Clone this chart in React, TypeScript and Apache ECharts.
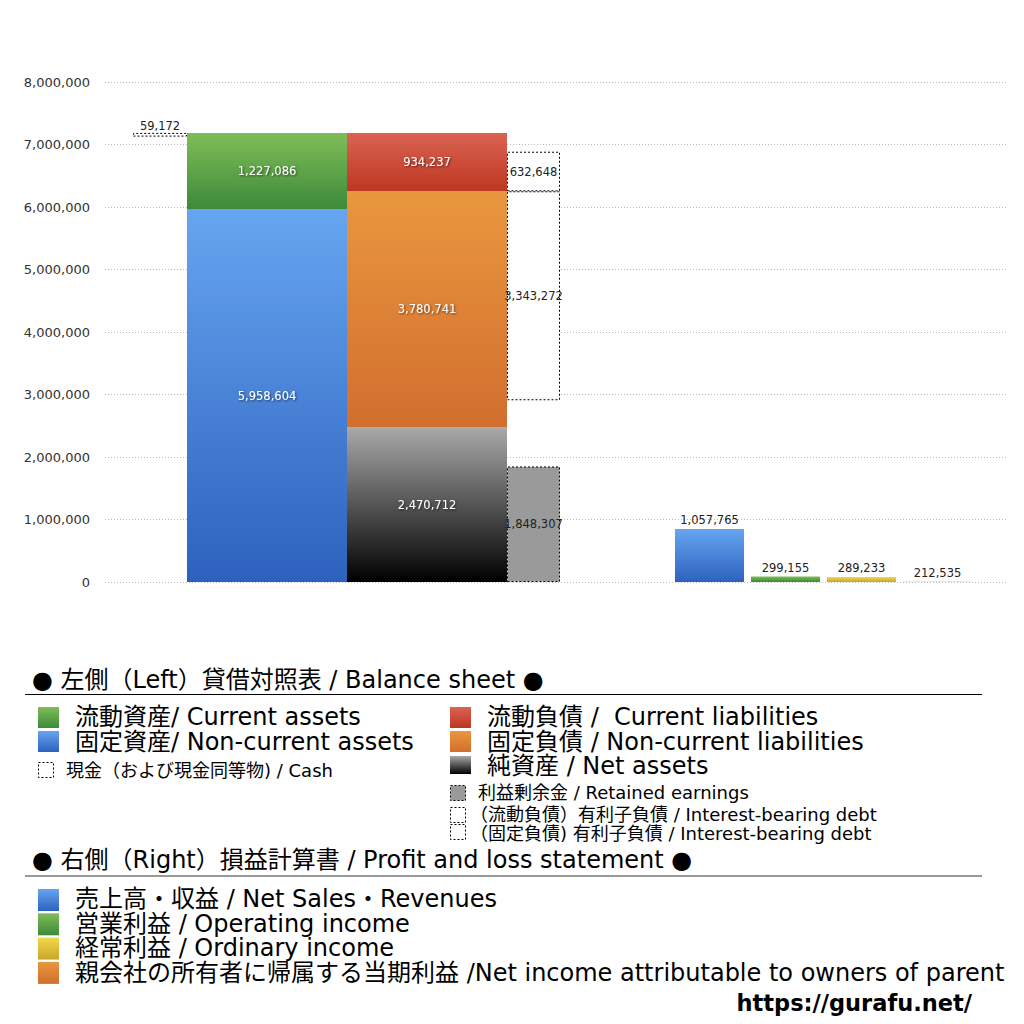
import React, { useEffect, useRef } from 'react';
import * as echarts from 'echarts';

// ---- data ----
const bsCategories = ['貸借対照表'];
const cashValues = [59172];
const assetValues = [5958604, 1227086]; // non-current, current
const liabilityValues = [3780741, 934237]; // non-current, current
const netAssetValues = [2470712];
const retainedValues = [1848307];
const debtValues = [3343272, 632648]; // non-current, current interest-bearing debt
const plCategories = ['売上高・収益', '営業利益', '経常利益', '当期利益'];
const plValues = [1057765, 299155, 289233, 212535];
const yAxisMin = 0;
const yAxisMax = 8000000;
const yAxisInterval = 1000000;
const plAxisMin = 210000;

const NUM_FONT = '"DejaVu Sans", "Noto Sans CJK JP", sans-serif';
const LEG_FONT = '"DejaVu Sans", "Noto Sans CJK JP", sans-serif';
const BIG = 24;
const SMALL = 18;

const grad = (top: string, bottom: string) =>
  new echarts.graphic.LinearGradient(0, 0, 0, 1, [
    { offset: 0, color: top },
    { offset: 1, color: bottom },
  ]);

const C = {
  green: () => grad('#80bd58', '#3c8a39'),
  blue: () => grad('#66a5f0', '#2d61be'),
  red: () => grad('#da6353', '#bd3720'),
  orange: () => grad('#e9973e', '#d26e2e'),
  black: () => grad('#a9a9a9', '#000000'),
  yellow: () => grad('#f2d84a', '#c9a52c'),
};

const fmt = (p: any) => Number(p.value).toLocaleString('en-US');

const insideLabel = {
  show: true,
  position: 'inside',
  color: '#ffffff',
  fontSize: 11.5,
  fontFamily: NUM_FONT,
  textShadowColor: 'rgba(0,0,0,0.6)',
  textShadowBlur: 2,
  textShadowOffsetX: 1,
  textShadowOffsetY: 1,
  formatter: fmt,
};
const darkInsideLabel = {
  show: true,
  position: 'inside',
  color: '#222',
  fontSize: 11.5,
  fontFamily: NUM_FONT,
  formatter: fmt,
};
const topLabel = {
  show: true,
  position: 'top',
  distance: 3,
  color: '#222',
  fontSize: 11.5,
  fontFamily: NUM_FONT,
  formatter: fmt,
};
const dashedStyle = (fill: string) => ({
  color: fill,
  borderColor: '#000',
  borderWidth: 1,
  borderType: [2, 2],
});
const spacerStyle = { color: 'rgba(0,0,0,0)' };

function buildOption() {
  const totalAssets = assetValues[0] + assetValues[1];
  const cashBase = totalAssets - cashValues[0];
  const debtBase = netAssetValues[0] + liabilityValues[0] - debtValues[0] - retainedValues[0];

  const bs = (extra: any) => ({
    type: 'bar',
    xAxisIndex: 1,
    yAxisIndex: 1,
    barGap: '0%',
    silent: true,
    emphasis: { disabled: true },
    ...extra,
  });

  const series: any[] = [
    bs({ name: 'cashBase', stack: 'cash', barWidth: 54, data: [cashBase], itemStyle: spacerStyle }),
    bs({ name: '現金', stack: 'cash', barWidth: 54, data: cashValues, itemStyle: dashedStyle('#ffffff'), label: { ...topLabel, distance: 1 } }),
    bs({ name: '固定資産', stack: 'assets', barWidth: 160, data: [assetValues[0]], itemStyle: { color: C.blue() }, label: insideLabel }),
    bs({ name: '流動資産', stack: 'assets', barWidth: 160, data: [assetValues[1]], itemStyle: { color: C.green() }, label: insideLabel }),
    bs({ name: '純資産', stack: 'liab', barWidth: 160, data: netAssetValues, itemStyle: { color: C.black() }, label: insideLabel }),
    bs({ name: '固定負債', stack: 'liab', barWidth: 160, data: [liabilityValues[0]], itemStyle: { color: C.orange() }, label: insideLabel }),
    bs({ name: '流動負債', stack: 'liab', barWidth: 160, data: [liabilityValues[1]], itemStyle: { color: C.red() }, label: insideLabel }),
    bs({ name: '利益剰余金', stack: 'debt', barWidth: 53, data: retainedValues, itemStyle: dashedStyle('#9a9a9a'), label: darkInsideLabel }),
    bs({ name: 'debtBase', stack: 'debt', barWidth: 53, data: [debtBase], itemStyle: spacerStyle }),
    bs({ name: '固定有利子負債', stack: 'debt', barWidth: 53, data: [debtValues[0]], itemStyle: dashedStyle('#ffffff'), label: darkInsideLabel }),
    bs({ name: '流動有利子負債', stack: 'debt', barWidth: 53, data: [debtValues[1]], itemStyle: dashedStyle('#ffffff'), label: darkInsideLabel }),
    {
      type: 'bar',
      name: '損益計算書',
      xAxisIndex: 2,
      yAxisIndex: 2,
      barWidth: 69,
      clip: true,
      silent: true,
      emphasis: { disabled: true },
      label: topLabel,
      data: plValues.map((v, i) => ({
        value: v,
        itemStyle: { color: [C.blue, C.green, C.yellow, C.orange][i]() },
      })),
    },
  ];

  // ---- legend graphics ----
  const g: any[] = [];
  const text = (x: number, y: number, t: string, size: number, extra: any = {}) =>
    g.push({
      type: 'text',
      x,
      y,
      silent: true,
      style: { text: t, fontSize: size, fontFamily: LEG_FONT, fill: '#000', verticalAlign: 'middle', align: 'left', ...extra },
    });
  const box = (x: number, y: number, w: number, h: number, fill: any) =>
    g.push({ type: 'rect', silent: true, shape: { x, y, width: w, height: h }, style: { fill } });
  const dbox = (x: number, y: number, w: number, h: number, fill: string) =>
    g.push({ type: 'rect', silent: true, shape: { x: x + 0.5, y: y + 0.5, width: w, height: h }, style: { fill, stroke: '#000', lineWidth: 1, lineDash: [2, 2] } });

  text(32, 680, '● 左側（Left）貸借対照表 / Balance sheet ●', BIG);
  g.push({ type: 'line', silent: true, shape: { x1: 25, y1: 694.5, x2: 982, y2: 694.5 }, style: { stroke: '#000', lineWidth: 1 } });

  box(38, 707, 21, 21, C.green());
  text(75, 717, '流動資産/ Current assets', BIG);
  box(38, 731, 21, 21, C.blue());
  text(75, 741.5, '固定資産/ Non-current assets', BIG);
  dbox(38, 762, 15, 15, '#fff');
  text(66, 770, '現金（および現金同等物) / Cash', SMALL);

  box(450, 707, 21, 21, C.red());
  text(487, 717, '流動負債 /  Current liabilities', BIG);
  box(450, 731, 21, 21, C.orange());
  text(487, 741.5, '固定負債 / Non-current liabilities', BIG);
  box(450, 756, 21, 18, C.black());
  text(487, 766, '純資産 / Net assets', BIG);
  dbox(450, 785, 15, 15, '#9a9a9a');
  text(478, 792, '利益剰余金 / Retained earnings', SMALL);
  dbox(450, 807, 15, 15, '#fff');
  text(470, 814, '（流動負債）有利子負債 / Interest-bearing debt', SMALL);
  dbox(450, 824, 15, 15, '#fff');
  text(470, 833, '（固定負債) 有利子負債 / Interest-bearing debt', SMALL);

  text(32, 860, '● 右側（Right）損益計算書 / Profit and loss statement ●', BIG);
  g.push({ type: 'line', silent: true, shape: { x1: 25, y1: 876, x2: 982, y2: 876 }, style: { stroke: '#777', lineWidth: 1.5 } });

  const plLegend = [
    '売上高・収益 / Net Sales・Revenues',
    '営業利益 / Operating income',
    '経常利益 / Ordinary income',
    '親会社の所有者に帰属する当期利益 /Net income attributable to owners of parent',
  ];
  const plColors = [C.blue, C.green, C.yellow, C.orange];
  plLegend.forEach((t, i) => {
    box(38, 889 + i * 24.3, 21, 22, plColors[i]());
    text(75, 899 + i * 24.5, t, BIG);
  });

  text(972, 1003, 'https://gurafu.net/', 22.5, { align: 'right', fontWeight: 'bold' });

  return {
    animation: false,
    backgroundColor: '#ffffff',
    textStyle: { fontFamily: NUM_FONT },
    grid: [
      { left: 105, top: 82, width: 902, height: 500 },
      { left: 105, top: 82, width: 483, height: 500 },
      { left: 671.5, top: 82, width: 304, height: 500 },
    ],
    xAxis: [
      { type: 'category', gridIndex: 0, data: [''], axisLine: { show: false }, axisTick: { show: false }, axisLabel: { show: false } },
      { type: 'category', gridIndex: 1, data: bsCategories, show: false },
      { type: 'category', gridIndex: 2, data: plCategories, show: false },
    ],
    yAxis: [
      {
        type: 'value',
        gridIndex: 0,
        min: yAxisMin,
        max: yAxisMax,
        interval: yAxisInterval,
        axisLine: { show: false },
        axisTick: { show: false },
        axisLabel: {
          color: '#333',
          fontSize: 13,
          margin: 15,
          fontFamily: NUM_FONT,
          formatter: (v: number) => v.toLocaleString('en-US'),
        },
        splitLine: { show: true, lineStyle: { color: '#bbbbbb', type: [1, 2], width: 1 } },
      },
      { type: 'value', gridIndex: 1, min: yAxisMin, max: yAxisMax, show: false, splitLine: { show: false } },
      { type: 'value', gridIndex: 2, min: plAxisMin, max: plAxisMin + yAxisMax, startValue: plAxisMin, show: false, splitLine: { show: false } },
    ],
    series,
    graphic: g,
  };
}

export default function App() {
  const ref = useRef<HTMLDivElement>(null);
  useEffect(() => {
    if (!ref.current) return;
    const chart = echarts.init(ref.current, undefined, { renderer: 'svg' });
    chart.setOption(buildOption() as any);
    return () => chart.dispose();
  }, []);
  return (
    <div
      ref={ref}
      style={{ position: 'fixed', left: 0, top: 0, width: 1024, height: 1024, background: '#fff' }}
    />
  );
}
